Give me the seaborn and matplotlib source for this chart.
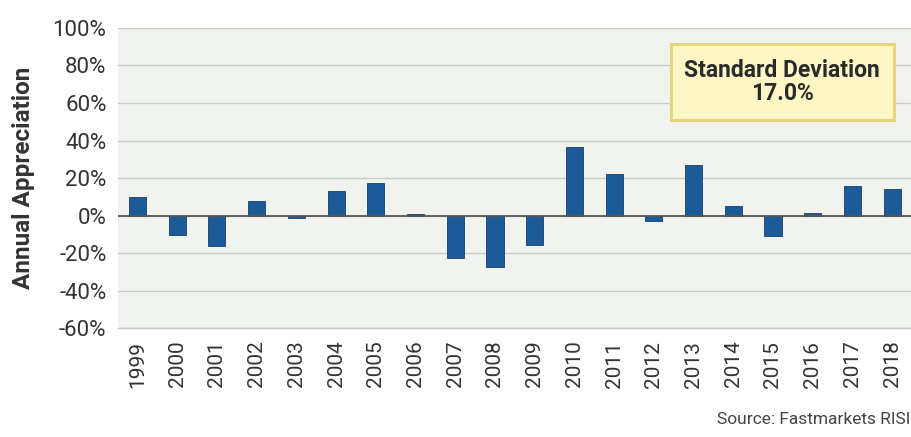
import matplotlib
matplotlib.use("Agg")
import matplotlib.pyplot as plt
import seaborn as sns
import pandas as pd
from matplotlib.patches import Rectangle
from matplotlib.ticker import FuncFormatter, MultipleLocator

years = ["1999", "2000", "2001", "2002", "2003", "2004", "2005", "2006", "2007", "2008",
         "2009", "2010", "2011", "2012", "2013", "2014", "2015", "2016", "2017", "2018"]
appreciation = [10.0, -10.5, -16.0, 7.8, -1.3, 13.3, 17.6, 1.0, -22.6, -27.5,
                -15.6, 36.5, 22.1, -3.0, 26.9, 5.0, -10.7, 1.2, 16.0, 14.0]
std_dev = 17.0

df = pd.DataFrame({"year": years, "value": appreciation})

sns.set_theme(style="white")
plt.rcParams["font.family"] = ["Roboto", "DejaVu Sans"]

fig = plt.figure(figsize=(9.12, 4.37), dpi=100)
ax = fig.add_axes([0.129, 0.249, 0.871, 0.687])
ax.set_facecolor("#F1F3EE")

sns.barplot(data=df, x="year", y="value", color="#1D5A98", width=0.43,
            saturation=1, edgecolor="#163F6B", linewidth=0.6, ax=ax, zorder=3)

ax.set_ylim(-60, 100)
ax.yaxis.set_major_locator(MultipleLocator(20))
ax.yaxis.set_major_formatter(FuncFormatter(lambda v, p: f"{v:.0f}%"))
ax.grid(axis="y", color="#C9CCC6", linewidth=1.0, zorder=0)
ax.set_axisbelow(True)
ax.axhline(0, color="#555555", linewidth=1.3, zorder=4)

for s in ["left", "right", "top"]:
    ax.spines[s].set_visible(False)
ax.spines["bottom"].set_color("#C9CCC6")
ax.spines["bottom"].set_linewidth(1.0)

ax.tick_params(axis="y", labelsize=16, colors="#333333", length=0, pad=8)
ax.tick_params(axis="x", labelsize=15, colors="#333333", length=0, pad=9, labelrotation=90)
ax.set_xlabel("")
ax.set_ylabel("Annual Appreciation", fontsize=17.5, fontweight="bold", color="#333333")
ax.yaxis.set_label_coords(-0.104, 0.5)

# annotation box with the standard deviation
ax.add_patch(Rectangle((0.696, 0.693), 0.281, 0.253, transform=ax.transAxes,
                       facecolor="#FCF7C4", edgecolor="#E6D580", linewidth=2.2, zorder=5))
ax.text(0.8365, 0.82, f"Standard Deviation\n{std_dev:.1f}%", transform=ax.transAxes,
        ha="center", va="center", fontsize=16.5, fontweight="bold", color="#2A2A2A",
        linespacing=1.05, zorder=6)

fig.text(0.998, 0.022, "Source: Fastmarkets RISI", ha="right", va="bottom",
         fontsize=12.5, color="#444444")

fig.savefig("out.png", dpi=100, facecolor="white")
